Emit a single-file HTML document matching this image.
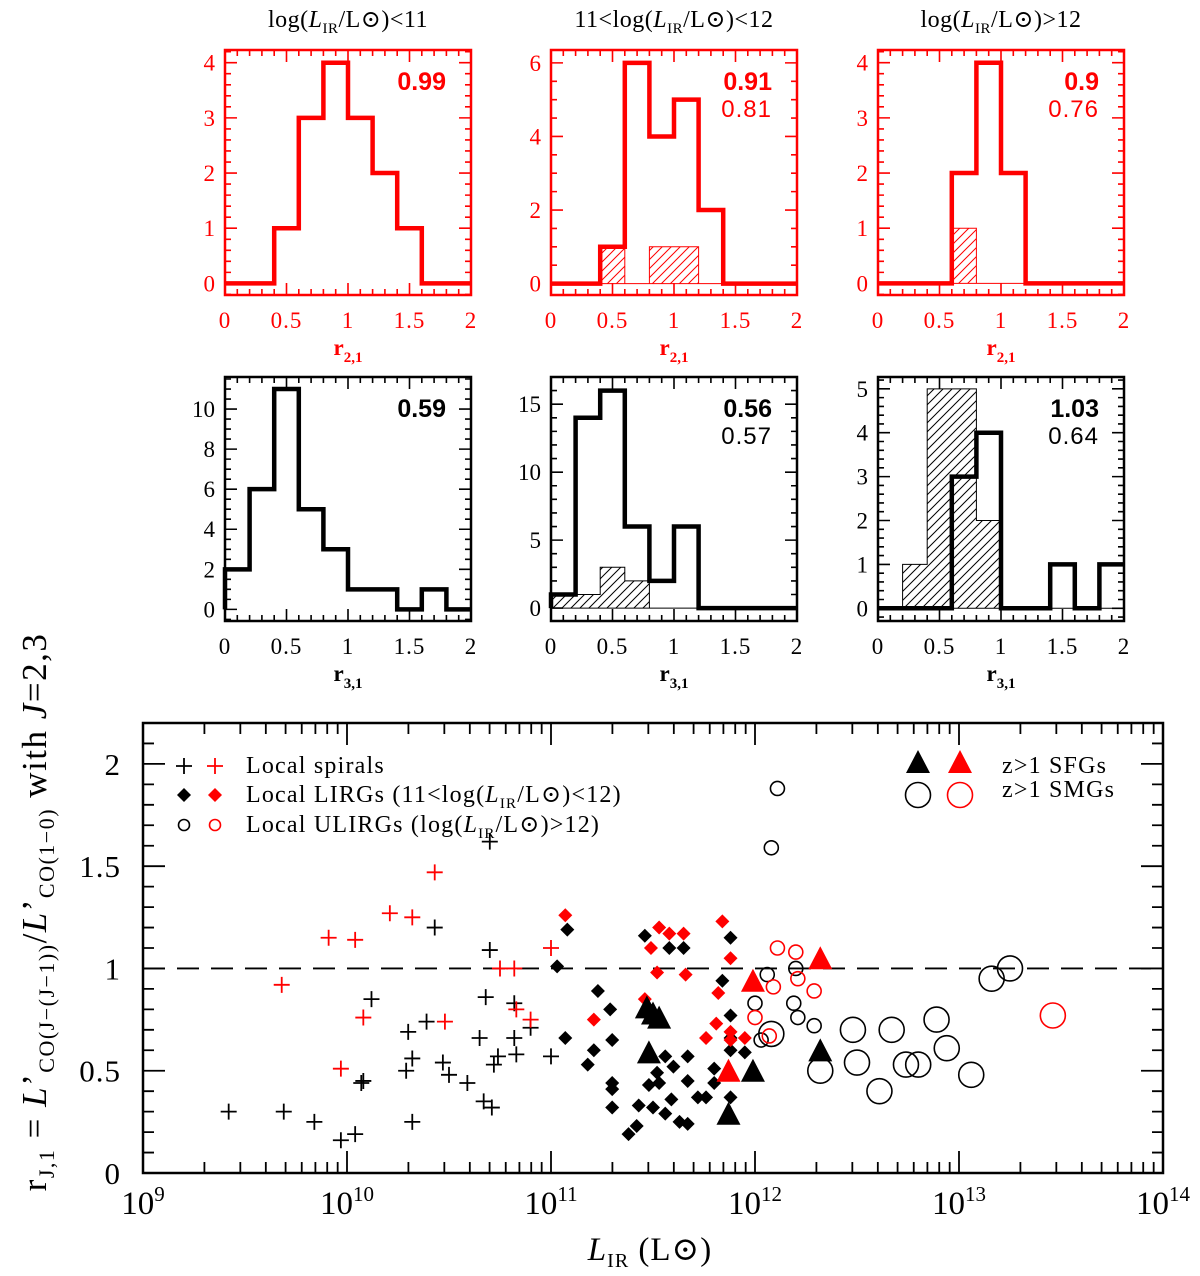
<!DOCTYPE html>
<html><head><meta charset="utf-8">
<style>
html,body{margin:0;padding:0;background:#fff;}
svg{display:block;font-family:"Liberation Serif","DejaVu Serif",serif;}
</style></head>
<body>
<svg id="fig" width="1200" height="1276" viewBox="0 0 1200 1276" xmlns="http://www.w3.org/2000/svg">
<defs>
<pattern id="hatch" patternUnits="userSpaceOnUse" width="9" height="9">
<path d="M-1,10 L10,-1 M-1,1 L1,-1 M8,10 L10,8" stroke="#000" stroke-width="1"/>
</pattern>
<pattern id="hatchR" patternUnits="userSpaceOnUse" width="9" height="9">
<path d="M-1,10 L10,-1 M-1,1 L1,-1 M8,10 L10,8" stroke="#f00" stroke-width="1"/>
</pattern>
</defs>
<g id="hists"></g>
<g id="main"></g>
</svg>
<script>
// ---------- Histogram data (bins of 0.2 from 0 to 2) ----------
const binEdges = [0,0.2,0.4,0.6,0.8,1.0,1.2,1.4,1.6,1.8,2.0];
const r21LowAll = [0,0,1,3,4,3,2,1,0,0];
const r21MidAll = [0,0,1,6,4,5,2,0,0,0];
const r21MidHigh = [0,0,1,0,1,1,0,0,0,0];
const r21HighAll = [0,0,0,2,4,2,0,0,0,0];
const r21HighHigh = [0,0,0,1,0,0,0,0,0,0];
const r31LowAll = [2,6,11,5,3,1,1,0,1,0];
const r31MidAll = [1,14,16,6,2,6,0,0,0,0];
const r31MidHigh = [1,1,3,2,0,0,0,0,0,0];
const r31HighAll = [0,0,0,3,4,0,0,1,0,1];
const r31HighHigh = [0,1,5,5,2,0,0,0,0,0];
const xTickLabels = ["0","0.5","1","1.5","2"];
const medAll = ["0.99","0.91","0.9","0.59","0.56","1.03"];
const medHigh = ["","0.81","0.76","","0.57","0.64"];

// ---------- Scatter data: [log L_IR, r_J1] ----------
const spiralsBlack = [[9.42,0.30],[9.69,0.30],[9.84,0.25],[9.97,0.16],[10.04,0.19],[10.12,0.85],[10.08,0.45],[10.07,0.44],[10.30,0.69],[10.32,0.56],[10.29,0.50],[10.32,0.25],[10.39,0.74],[10.47,0.54],[10.50,0.48],[10.59,0.44],[10.65,0.66],[10.68,0.86],[10.70,1.09],[10.70,1.62],[10.43,1.20],[10.67,0.35],[10.71,0.32],[10.74,0.57],[10.72,0.53],[10.82,0.83],[10.82,0.66],[10.83,0.58],[10.90,0.71],[11.00,0.57]];
const spiralsRed = [[9.68,0.92],[9.91,1.15],[10.04,1.14],[10.08,0.76],[9.97,0.51],[10.21,1.27],[10.32,1.25],[10.43,1.47],[10.48,0.74],[10.75,1.00],[10.82,1.00],[10.83,0.80],[10.90,0.75],[11.00,1.10]];
const lirgsBlack = [[11.08,1.19],[11.46,1.16],[11.58,1.10],[11.65,1.10],[11.88,1.15],[11.84,0.94],[11.23,0.89],[11.29,0.80],[11.07,0.66],[11.30,0.65],[11.21,0.60],[11.18,0.53],[11.30,0.44],[11.30,0.41],[11.30,0.32],[11.38,0.19],[11.42,0.23],[11.43,0.33],[11.48,0.43],[11.50,0.32],[11.52,0.49],[11.53,0.44],[11.56,0.57],[11.56,0.29],[11.59,0.36],[11.60,0.52],[11.63,0.25],[11.67,0.45],[11.67,0.24],[11.67,0.57],[11.72,0.37],[11.76,0.37],[11.80,0.51],[11.80,0.44],[11.88,0.77],[11.88,0.60],[11.88,0.37],[11.95,0.59],[11.88,0.66],[11.03,1.01]];
const lirgsRed = [[11.84,1.23],[11.53,1.20],[11.58,1.17],[11.65,1.17],[11.49,1.10],[11.52,0.98],[11.66,0.97],[11.88,1.05],[11.82,0.88],[11.46,0.85],[11.21,0.75],[11.81,0.73],[11.88,0.69],[11.76,0.66],[11.95,0.66],[11.88,0.65],[11.07,1.26]];
const ulirgsBlack = [[12.11,1.88],[12.08,1.59],[12.06,0.97],[12.20,1.00],[12.00,0.83],[12.19,0.83],[12.21,0.76],[12.29,0.72],[12.03,0.65]];
const ulirgsRed = [[12.11,1.10],[12.20,1.08],[12.21,0.95],[12.09,0.91],[12.29,0.89],[12.00,0.76],[12.07,0.67]];
const sfgBlack = [[11.47,0.80],[11.53,0.75],[11.48,0.58],[11.99,0.49],[11.87,0.28],[12.32,0.59],[11.50,0.77]];
const sfgRed = [[11.99,0.93],[12.32,1.04],[11.87,0.49]];
const smgBlack = [[12.32,0.50],[12.48,0.70],[12.50,0.54],[12.61,0.40],[12.67,0.70],[12.74,0.53],[12.80,0.53],[12.89,0.75],[12.94,0.61],[13.06,0.48],[13.16,0.95],[13.25,1.00],[12.08,0.68]];
const smgRed = [[13.46,0.77]];
const mainYTicks = [0,0.5,1,1.5,2];
const mainYLabels = ["0","0.5","1","1.5","2"];
const mainXDecades = [9,10,11,12,13,14];

const NS="http://www.w3.org/2000/svg";
function mk(tag, attrs, parent){const e=document.createElementNS(NS,tag);for(const k in attrs)e.setAttribute(k,attrs[k]);parent.appendChild(e);return e;}

// ---------- Histograms ----------
const hists=document.getElementById('hists');
const colsX=[225,551,878], W=246;
const rowTop=[50,377], H=[245,244];
const panels=[
 {c:0,r:0,all:r21LowAll,hi:null,ymin:-0.21,ymax:4.23,yt:[0,1,2,3,4],ymn:0.2,col:"#f00",xl:"r21"},
 {c:1,r:0,all:r21MidAll,hi:r21MidHigh,ymin:-0.31,ymax:6.35,yt:[0,2,4,6],ymn:0.5,col:"#f00",xl:"r21"},
 {c:2,r:0,all:r21HighAll,hi:r21HighHigh,ymin:-0.21,ymax:4.23,yt:[0,1,2,3,4],ymn:0.2,col:"#f00",xl:"r21"},
 {c:0,r:1,all:r31LowAll,hi:null,ymin:-0.58,ymax:11.6,yt:[0,2,4,6,8,10],ymn:0.5,col:"#000",xl:"r31"},
 {c:1,r:1,all:r31MidAll,hi:r31MidHigh,ymin:-0.95,ymax:17.0,yt:[0,5,10,15],ymn:1,col:"#000",xl:"r31"},
 {c:2,r:1,all:r31HighAll,hi:r31HighHigh,ymin:-0.29,ymax:5.27,yt:[0,1,2,3,4,5],ymn:0.2,col:"#000",xl:"r31"}
];
panels.forEach((p,i)=>{
  const x0=colsX[p.c], y0=rowTop[p.r], h=H[p.r];
  const g=mk('g',{},hists);
  
  
  const X=v=>x0+v/2*W;
  const Y=v=>y0+h-(v-p.ymin)/(p.ymax-p.ymin)*h;
  const fc=p.col;
  if(p.hi){
    let d="M"+X(0)+","+Y(0);
    for(let b=0;b<10;b++){d+=" V"+Y(p.hi[b])+" H"+X(binEdges[b+1]);}
    d+=" V"+Y(0)+" Z";
    const hp=mk('path',{d:d,fill:p.r===0?"url(#hatchR)":"url(#hatch)",stroke:fc,"stroke-width":1},g);
    
    
  }
  let d="M"+X(0)+","+Y(0);
  for(let b=0;b<10;b++){d+=" V"+Y(p.all[b])+" H"+X(binEdges[b+1]);}
  const sp=mk('path',{d:d,fill:"none",stroke:fc,"stroke-width":4.5,"stroke-linejoin":"miter"},g);
  
  
  const fr=mk('rect',{x:x0,y:y0,width:W,height:h,fill:"none",stroke:fc,"stroke-width":2.5},g);
  
  
  let td="";
  for(let k=0;k<=20;k++){const v=k*0.1;const L=(k%5===0)?12:6;const xx=X(v);td+=`M${xx},${y0+h} v${-L} M${xx},${y0} v${L} `;}
  for(let v=Math.ceil(p.ymin/p.ymn)*p.ymn;v<=p.ymax+1e-9;v+=p.ymn){
    const maj=p.yt.some(t=>Math.abs(t-v)<1e-6);const L=maj?12:6;const yy=Y(v);
    td+=`M${x0},${yy} h${L} M${x0+W},${yy} h${-L} `;
  }
  mk('path',{d:td,stroke:fc,"stroke-width":1.6,fill:"none"},g);
  xTickLabels.forEach((t,k)=>{const e=mk('text',{x:X(k*0.5),y:y0+h+33,"text-anchor":"middle","font-size":23,fill:fc,"letter-spacing":"1"},g);e.textContent=t;
    });
  p.yt.forEach(t=>{const e=mk('text',{x:x0-10,y:Y(t)+8,"text-anchor":"end","font-size":23,fill:fc},g);e.textContent=t;
    });
  const xl=mk('text',{x:x0+W/2,y:y0+h+60,"text-anchor":"middle","font-size":23,"font-weight":"bold"},g);
  
  xl.setAttribute('fill', p.r===0?"#f00":"#000");
  xl.innerHTML = 'r<tspan font-size="15" dy="7">'+(p.xl==="r21"?"2,1":"3,1")+'</tspan>';
  const m=mk('text',{x:x0+W-25,y:y0+40,"text-anchor":"end","font-size":25,"font-weight":"bold",fill:fc,"font-family":"Liberation Sans, sans-serif"},g);
  m.textContent=medAll[i];
  if(medHigh[i]){const m2=mk('text',{x:x0+W-25,y:y0+67,"text-anchor":"end","font-size":24,fill:fc,"font-family":"Liberation Sans, sans-serif","letter-spacing":"1"},g);
    m2.textContent=medHigh[i];}
  if(p.r===0){
    const t=mk('text',{x:x0+W/2,y:27,"text-anchor":"middle","font-size":24,fill:"#000","letter-spacing":"0.5"},g);
    
    const pre=["log(","11&lt;log(","log("][p.c], post=["/L⊙)&lt;11","/L⊙)&lt;12","/L⊙)&gt;12"][p.c];
    t.innerHTML=pre+'<tspan font-style="italic">L</tspan><tspan font-size="15" dy="6">IR</tspan><tspan dy="-6">'+post+'</tspan>';
  }
});

// ---------- Main scatter ----------
const main=document.getElementById('main');
const MX0=143,MX1=1163,MY0=1173,MY1=723;
const mx=l=>MX0+(l-9)/5*(MX1-MX0);
const my=v=>MY0-v/2.2*(MY0-MY1);
let td="";
mainXDecades.forEach(dd=>{ if(dd<14){for(let k=1;k<=9;k++){const xx=mx(dd+Math.log10(k));const L=k===1?22:11;td+=`M${xx},${MY0} v${-L} M${xx},${MY1} v${L} `;}} });
for(let k=0;k<=22;k++){const v=k*0.1;const yy=my(v);const L=(k%5===0)?22:11;td+=`M${MX0},${yy} h${L} M${MX1},${yy} h${-L} `;}
mk('path',{d:td,stroke:"#000","stroke-width":1.8,fill:"none"},main);
const fr=mk('rect',{x:MX0,y:MY1,width:MX1-MX0,height:MY0-MY1,fill:"none",stroke:"#000","stroke-width":2.5},main);

const dl=mk('line',{x1:MX0,x2:MX1,y1:my(1),y2:my(1),stroke:"#000","stroke-width":1.8,"stroke-dasharray":"22,12"},main);

mainXDecades.forEach(dd=>{const e=mk('text',{x:mx(dd),y:1214,"text-anchor":"middle","font-size":33,fill:"#000"},main);
  e.innerHTML='10<tspan font-size="21" dy="-13">'+dd+'</tspan>';});
mainYTicks.forEach((v,k)=>{const e=mk('text',{x:121,y:my(v)+11,"text-anchor":"end","font-size":31,fill:"#000","letter-spacing":"1"},main);
  e.textContent=mainYLabels[k];});
const xt=mk('text',{x:650,y:1260,"text-anchor":"middle","font-size":33,fill:"#000","letter-spacing":"1"},main);

xt.innerHTML='<tspan font-style="italic">L</tspan><tspan font-size="20" dy="7">IR</tspan><tspan dy="-7">  (L⊙)</tspan>';
const yt=mk('text',{x:0,y:0,"text-anchor":"middle","font-size":35,fill:"#000","letter-spacing":"1.5",transform:"translate(46,912) rotate(-90)"},main);

yt.innerHTML='r<tspan font-size="22" dy="8">J,1</tspan><tspan dy="-8"> = </tspan><tspan font-style="italic">L</tspan>’<tspan font-size="22" dy="8">CO(J−(J−1))</tspan><tspan dy="-8">/</tspan><tspan font-style="italic">L</tspan>’<tspan font-size="22" dy="8">CO(1−0)</tspan><tspan dy="-8"> with </tspan><tspan font-style="italic">J</tspan>=2,3';

function cross(x,y,c,g){const e=mk('path',{d:`M${x-8},${y} h16 M${x},${y-8} v16`,stroke:c,"stroke-width":1.8},g);return e;}
function diamond(x,y,c,g){return mk('path',{d:`M${x},${y-7} L${x+7},${y} L${x},${y+7} L${x-7},${y} Z`,fill:c},g);}
function circ(x,y,r,c,g){return mk('circle',{cx:x,cy:y,r:r,fill:"none",stroke:c,"stroke-width":1.6},g);}
function tri(x,y,c,g){return mk('path',{d:`M${x},${y-14} L${x+12},${y+9} L${x-12},${y+9} Z`,fill:c},g);}
function series(arr,name,fn){const g=mk('g',{},main);
  arr.forEach(p=>{const e=fn(mx(p[0]),my(p[1]),g);});}
series(spiralsBlack,'local-spirals-black',(x,y,g)=>cross(x,y,"#000",g));
series(spiralsRed,'local-spirals-red',(x,y,g)=>cross(x,y,"#f00",g));
series(lirgsBlack,'local-lirgs-black',(x,y,g)=>diamond(x,y,"#000",g));
series(lirgsRed,'local-lirgs-red',(x,y,g)=>diamond(x,y,"#f00",g));
series(ulirgsBlack,'local-ulirgs-black',(x,y,g)=>circ(x,y,7,"#000",g));
series(ulirgsRed,'local-ulirgs-red',(x,y,g)=>circ(x,y,7,"#f00",g));
series(smgBlack,'smgs-black',(x,y,g)=>circ(x,y,12.5,"#000",g));
series(smgRed,'smgs-red',(x,y,g)=>circ(x,y,12.5,"#f00",g));
series(sfgBlack,'sfgs-black',(x,y,g)=>tri(x,y,"#000",g));
series(sfgRed,'sfgs-red',(x,y,g)=>tri(x,y,"#f00",g));

const lg=mk('g',{},main);
cross(184,766,"#000",lg);cross(215,766,"#f00",lg);
diamond(184,795,"#000",lg);diamond(215,795,"#f00",lg);
circ(184,825,5.5,"#000",lg);circ(215,825,5.5,"#f00",lg);
const L1=mk('text',{x:246,y:773,"font-size":24,fill:"#000","letter-spacing":"1.2"},lg);L1.textContent="Local spirals";

const L2=mk('text',{x:246,y:802,"font-size":24,fill:"#000","letter-spacing":"1.2"},lg);
L2.innerHTML='Local LIRGs (11&lt;log(<tspan font-style="italic">L</tspan><tspan font-size="15" dy="6">IR</tspan><tspan dy="-6">/L⊙)&lt;12)</tspan>';

const L3=mk('text',{x:246,y:832,"font-size":24,fill:"#000","letter-spacing":"1.2"},lg);
L3.innerHTML='Local ULIRGs (log(<tspan font-style="italic">L</tspan><tspan font-size="15" dy="6">IR</tspan><tspan dy="-6">/L⊙)&gt;12)</tspan>';

tri(918,764,"#000",lg);tri(960,764,"#f00",lg);
circ(918,795,12.5,"#000",lg);circ(960,795,12.5,"#f00",lg);
const L4=mk('text',{x:1002,y:773,"font-size":24,fill:"#000","letter-spacing":"1.2"},lg);L4.textContent="z>1 SFGs";

const L5=mk('text',{x:1002,y:797,"font-size":24,fill:"#000","letter-spacing":"1.2"},lg);L5.textContent="z>1 SMGs";

</script>
</body></html>
